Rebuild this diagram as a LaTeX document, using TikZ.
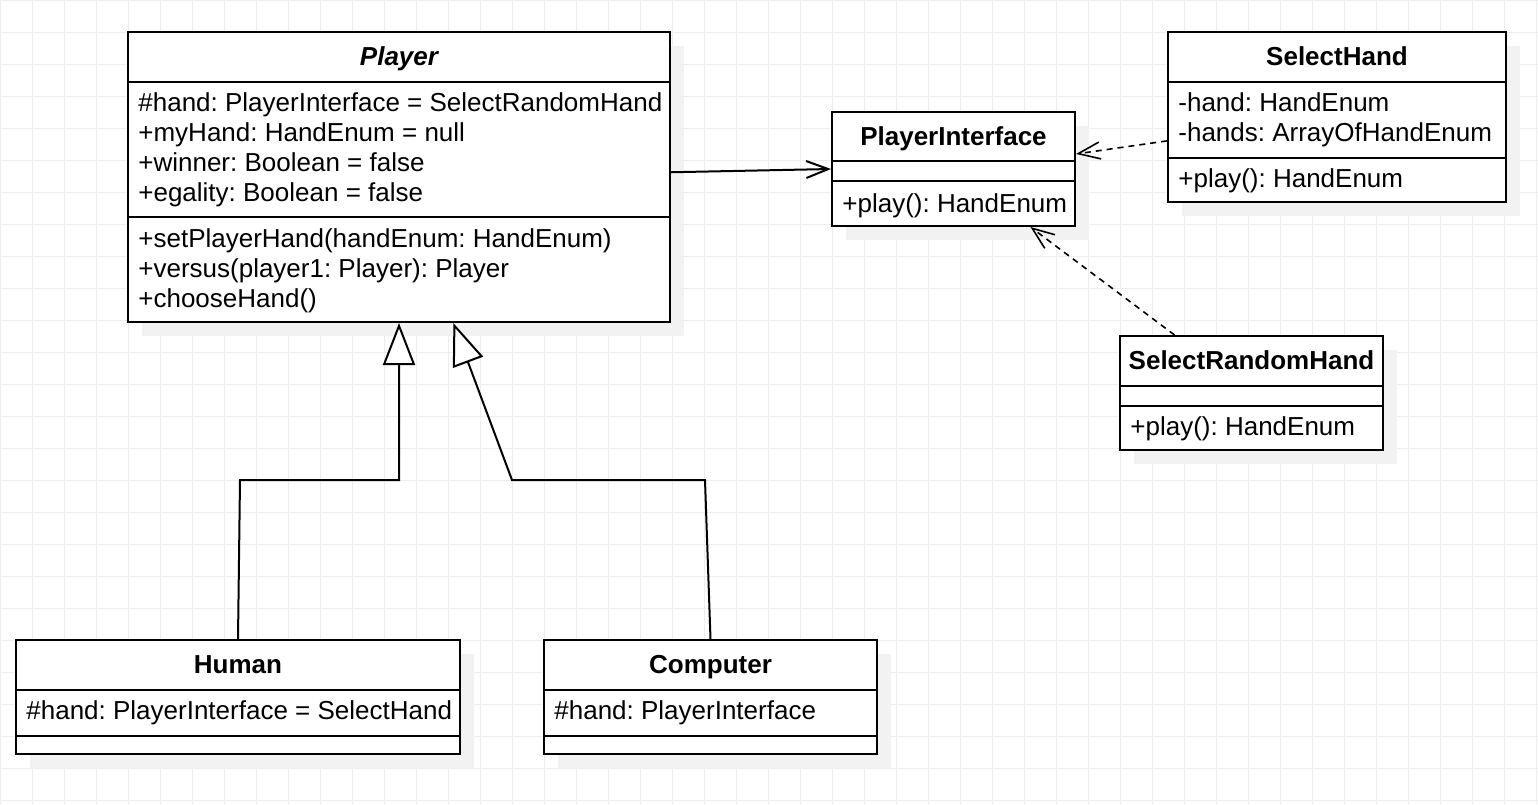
\documentclass[tikz,border=0pt]{standalone}
\usepackage{fontspec}
\setmainfont{Liberation Sans}
\usetikzlibrary{arrows.meta, positioning, calc, shadows}
\frenchspacing

\tikzset{
  gridline/.style={draw=black!7, line width=0.5pt},
  cls/.style={draw, fill=white, line width=1pt, inner sep=0pt, rectangle,
    general shadow={fill=black!5, shadow xshift=7pt, shadow yshift=-7pt}},
  sep/.style={line width=1pt},
  title/.style={font=\fontsize{13}{15}\selectfont\bfseries, inner sep=0pt, anchor=base},
  member/.style={font=\fontsize{13}{15}\selectfont, align=left, anchor=west, inner sep=0pt},
  assoc/.style={line width=1pt, -{Straight Barb[length=11pt, width=8.5pt]}},
  realize/.style={line width=0.8pt, dash pattern=on 3pt off 2.5pt, -{Straight Barb[length=11pt, width=8.5pt]}},
  inherit/.style={line width=1pt, -{Triangle[fill=white, length=21pt, width=16pt]}}
}

\begin{document}
\begin{tikzpicture}[x=0.5pt, y=-0.5pt]
\useasboundingbox (0,0) rectangle (1538,804);
% background grid
\foreach \gx in {0,32,...,1536} \draw[gridline] (\gx,0) -- (\gx,804);
\foreach \gy in {0,32,...,800} \draw[gridline] (0,\gy) -- (1538,\gy);

% Player
\node[cls, minimum width=271pt, minimum height=145pt] (player) at (399,177) {};
\draw[sep] (player.west |- 0,82) -- (player.east |- 0,82);
\draw[sep] (player.west |- 0,217) -- (player.east |- 0,217);
\node[title, font=\fontsize{13}{15}\selectfont\bfseries\itshape] (playername) at (399,65.5) {Player};
\node[member] (playerattr) at (138,150) {\#hand: PlayerInterface = SelectRandomHand\\+myHand: HandEnum = null\\+winner: Boolean = false\\+egality: Boolean = false};
\node[member] (playerops) at (138,271) {+setPlayerHand(handEnum: HandEnum)\\+versus(player1: Player): Player\\+chooseHand()};

% PlayerInterface
\node[cls, minimum width=121.5pt, minimum height=57pt] (iface) at (953.5,169) {};
\draw[sep] (iface.west |- 0,161) -- (iface.east |- 0,161);
\draw[sep] (iface.west |- 0,181) -- (iface.east |- 0,181);
\node[title] (ifacename) at (953.5,145.5) {PlayerInterface};
\node[member] (ifaceops) at (842,206) {+play(): HandEnum};

% SelectHand
\node[cls, minimum width=169pt, minimum height=85pt] (selhand) at (1337,117) {};
\draw[sep] (selhand.west |- 0,82) -- (selhand.east |- 0,82);
\draw[sep] (selhand.west |- 0,158) -- (selhand.east |- 0,158);
\node[title] (selhandname) at (1337,65.5) {SelectHand};
\node[member] (selhandattr) at (1178,120) {-hand: HandEnum\\-hands: ArrayOfHandEnum};
\node[member] (selhandops) at (1178,181) {+play(): HandEnum};

% SelectRandomHand
\node[cls, minimum width=131.5pt, minimum height=57pt] (randhand) at (1251.5,393) {};
\draw[sep] (randhand.west |- 0,386) -- (randhand.east |- 0,386);
\draw[sep] (randhand.west |- 0,406) -- (randhand.east |- 0,406);
\node[title] (randhandname) at (1251.5,369.5) {SelectRandomHand};
\node[member] (randhandops) at (1130,429) {+play(): HandEnum};

% Human
\node[cls, minimum width=222pt, minimum height=57pt] (human) at (238,697) {};
\draw[sep] (human.west |- 0,690) -- (human.east |- 0,690);
\draw[sep] (human.west |- 0,736) -- (human.east |- 0,736);
\node[title] (humanname) at (238,673.5) {Human};
\node[member] (humanattr) at (26,713) {\#hand: PlayerInterface = SelectHand};

% Computer
\node[cls, minimum width=166.5pt, minimum height=57pt] (computer) at (710.5,697) {};
\draw[sep] (computer.west |- 0,690) -- (computer.east |- 0,690);
\draw[sep] (computer.west |- 0,736) -- (computer.east |- 0,736);
\node[title] (computername) at (710.5,673.5) {Computer};
\node[member] (computerattr) at (554,713) {\#hand: PlayerInterface};

% relations
\draw[assoc] (player.1) -- (iface.west);
\draw[realize] (selhand.188) -- (iface.7.5);
\draw[realize] (randhand.143) -- (iface.323);
\draw[inherit] (human.north) -- (240,480) -| (player.south);
\draw[inherit] (computer.north) -- (705,480) -- (512,480)
  -- ($(player.south west)!0.6!(player.south east)$);
\end{tikzpicture}
\end{document}
